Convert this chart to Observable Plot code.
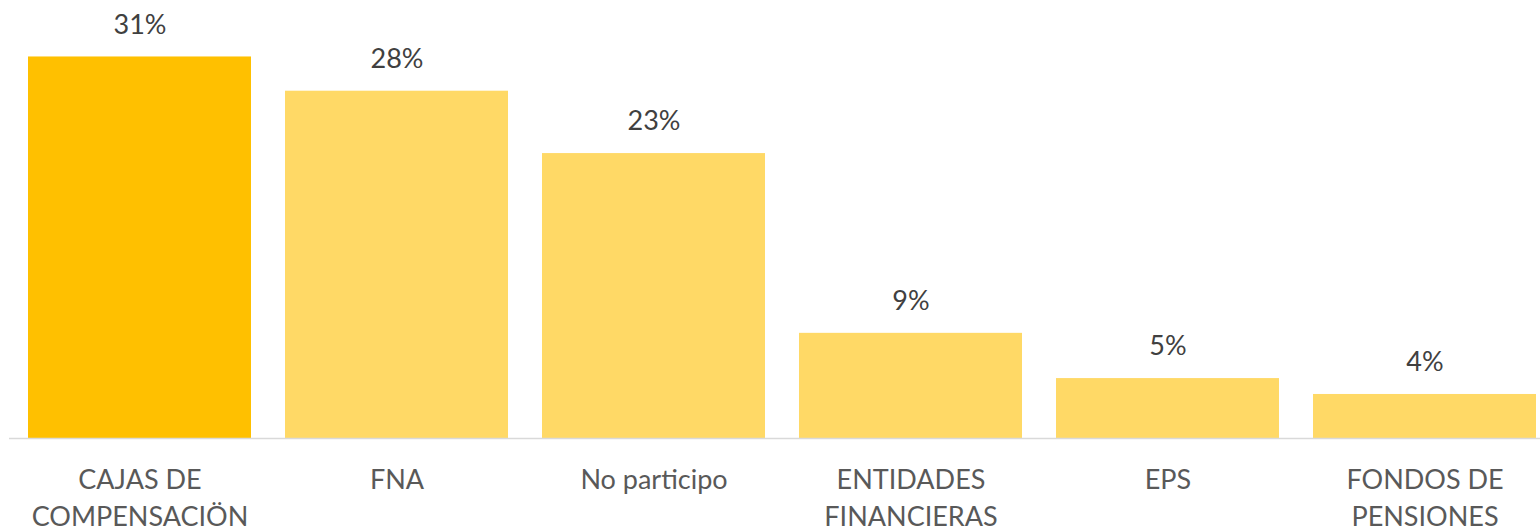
<!DOCTYPE html>
<html>
<head>
<meta charset="utf-8">
<script src="https://cdn.jsdelivr.net/npm/d3@7"></script>
<script src="https://cdn.jsdelivr.net/npm/@observablehq/plot@0.6"></script>
<style>
  html, body { margin: 0; padding: 0; background: #fff; }
  #chart svg { display: block; }
</style>
</head>
<body>
<div id="chart"></div>
<script>
const categories = ["CAJAS DE COMPENSACIÖN", "FNA", "No participo", "ENTIDADES FINANCIERAS", "EPS", "FONDOS DE PENSIONES"];
const tickLabels = ["CAJAS DE\nCOMPENSACIÖN", "FNA", "No participo", "ENTIDADES\nFINANCIERAS", "EPS", "FONDOS DE\nPENSIONES"];
const values = [0.312, 0.284, 0.233, 0.086, 0.049, 0.036];
const barColors = ["#FFC000", "#FFD966", "#FFD966", "#FFD966", "#FFD966", "#FFD966"];

const data = categories.map((c, i) => ({category: c, value: values[i], color: barColors[i], tick: tickLabels[i]}));
const tickMap = new Map(data.map(d => [d.category, d.tick]));
const pct = d3.format(".0%");

const chart = Plot.plot({
  width: 1540,
  height: 531,
  marginLeft: 9,
  marginRight: 0,
  marginTop: 10,
  marginBottom: 93,
  style: {fontFamily: "Lato, sans-serif", background: "#fff"},
  x: {domain: categories, paddingInner: 0.1336, paddingOuter: 0.041, align: 0.81, label: null},
  y: {domain: [0, 0.35], axis: null},
  marks: [
    Plot.barY(data, {x: "category", y: "value", fill: "color"}),
    Plot.ruleY([0], {stroke: "#D9D9D9", strokeWidth: 1.5}),
    Plot.text(data, {x: "category", y: "value", text: d => pct(d.value), dy: -32, fontSize: 27, fill: "#404040"}),
    Plot.axisX({tickSize: 0, tickPadding: 25, fontSize: 27, lineHeight: 1.35, color: "#595959", tickFormat: d => tickMap.get(d), label: null})
  ]
});
document.getElementById("chart").appendChild(chart);
</script>
</body>
</html>
